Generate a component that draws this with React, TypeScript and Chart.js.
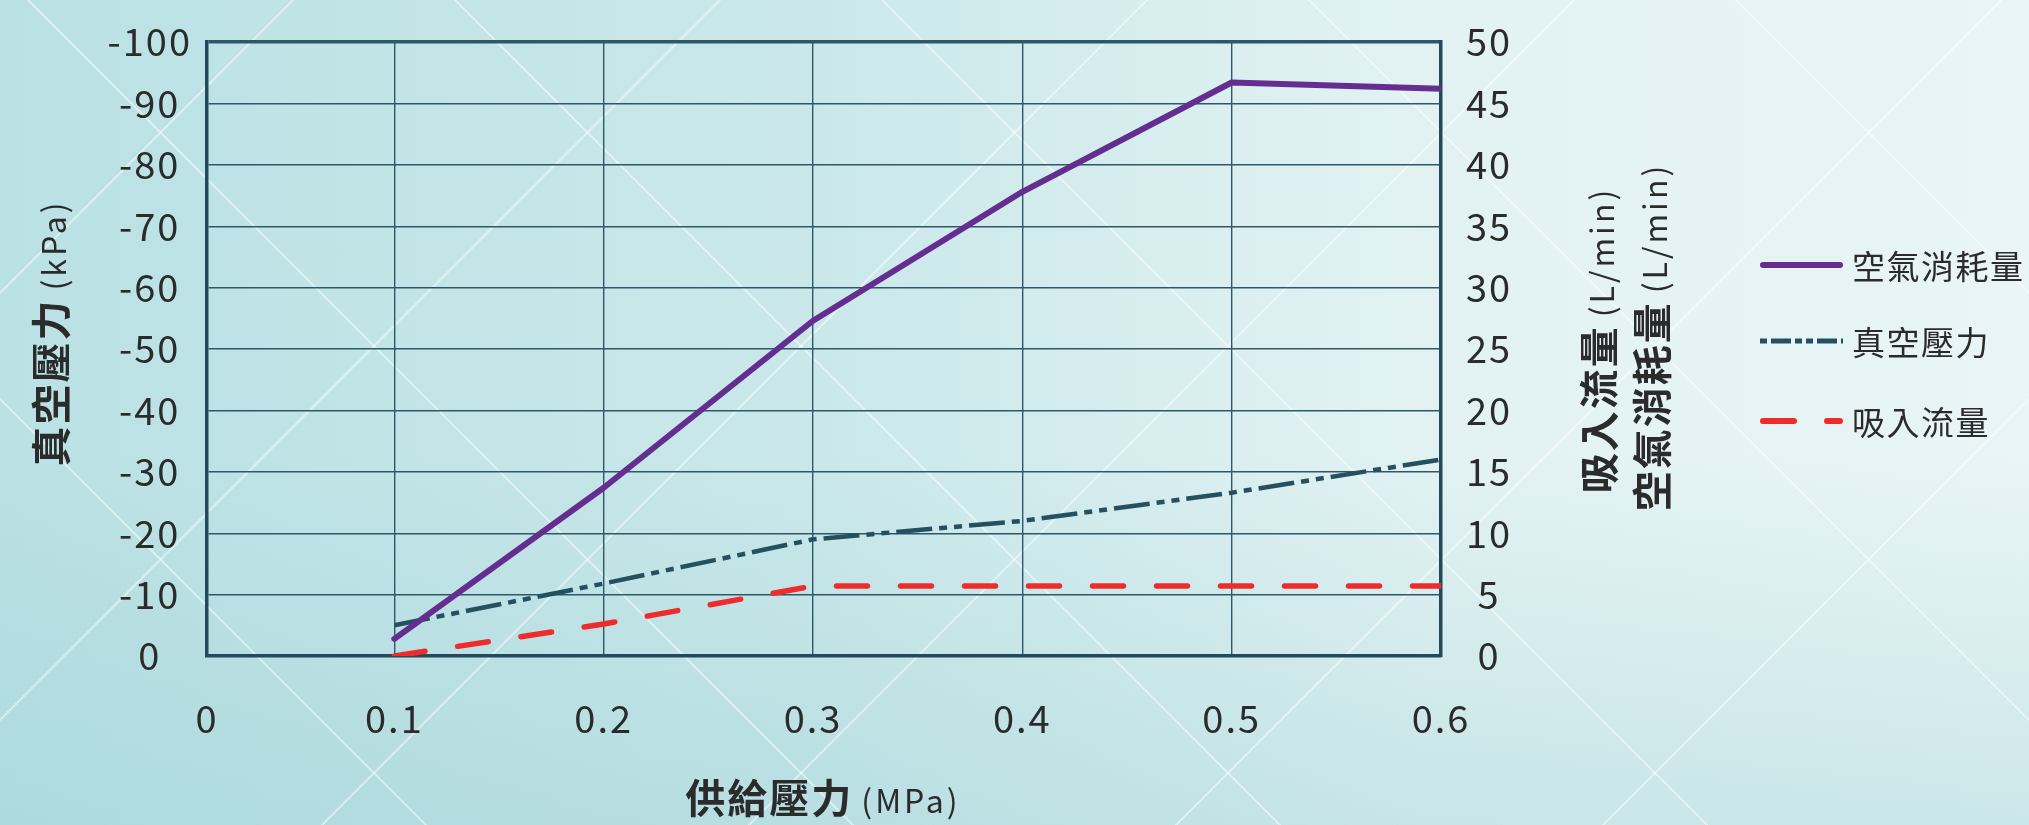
import React, { useEffect, useRef } from 'react';
import { Chart, registerables } from 'chart.js';

Chart.register(...registerables);

// ---- data ----
const xValues = [0.1, 0.2, 0.3, 0.4, 0.5, 0.6];
const airConsumption = [1.4, 13.7, 27.3, 37.8, 46.7, 46.2]; // L/min (right axis)
const vacuumPressure = [-5, -11.8, -19, -22, -26.6, -32]; // kPa (left axis)
const suctionFlow = [0, 2.6, 5.7, 5.7, 5.7, 5.7]; // L/min (right axis)

const xTickValues = [0, 0.1, 0.2, 0.3, 0.4, 0.5, 0.6];
const xTickLabels = ['0', '0.1', '0.2', '0.3', '0.4', '0.5', '0.6'];
const seriesNames = ['空氣消耗量', '真空壓力', '吸入流量'];
const leftTitle = ['真空壓力', '(kPa)'];
const rightTitleLines = [
  ['吸入流量', '(L/min)'],
  ['空氣消耗量', '(L/min)'],
];
const xTitle = ['供給壓力', '(MPa)'];

// ---- styles ----
const FF = "'Noto Sans CJK TC', 'Noto Sans', sans-serif";
const TEXT = '#2b2b2b';
const PURPLE = '#662d91';
const DARK = '#24505f';
const RED = '#ee2c2c';
const GRID = '#2e5868';
const BORDER = '#244a59';
const X_START = 0.0105; // where the "0" tick sits on the drawn axis
const DASHDOT = [36, 7, 8, 7, 8, 7];
const REDDASH = [31, 33];

function drawMixed(
  ctx: CanvasRenderingContext2D,
  parts: string[],
  x: number,
  y: number,
  rotate: boolean
) {
  ctx.save();
  ctx.translate(x, y);
  if (rotate) ctx.rotate(-Math.PI / 2);
  ctx.textBaseline = 'alphabetic';
  ctx.textAlign = 'left';
  ctx.fillStyle = TEXT;
  const boldFont = `bold 40px ${FF}`;
  const regFont = `32px ${FF}`;
  const c: any = ctx;
  ctx.font = boldFont;
  c.letterSpacing = '2px';
  const w1 = ctx.measureText(parts[0]).width;
  ctx.font = regFont;
  c.letterSpacing = '3px';
  const w2 = ctx.measureText(parts[1]).width;
  const gap = 8;
  const total = w1 + gap + w2;
  const sx = -total / 2;
  ctx.font = boldFont;
  c.letterSpacing = '2px';
  ctx.fillText(parts[0], sx, 0);
  ctx.font = regFont;
  c.letterSpacing = '3px';
  ctx.fillText(parts[1], sx + w1 + gap, 0);
  ctx.restore();
}

const decorPlugin = {
  id: 'decor',
  beforeUpdate(chart: any) {
    (chart.ctx as any).letterSpacing = '2px';
  },
  afterDraw(chart: any) {
    const ctx: CanvasRenderingContext2D = chart.ctx;
    // axis titles
    drawMixed(ctx, leftTitle, 66, 333, true);
    drawMixed(ctx, rightTitleLines[0], 1614, 340, true);
    drawMixed(ctx, rightTitleLines[1], 1667, 337, true);
    drawMixed(ctx, xTitle, 823, 813, false);

    // legend
    const rows = [
      { name: seriesNames[0], color: PURPLE, width: 6, dash: [] as number[], cap: 'round', y: 265 },
      { name: seriesNames[1], color: DARK, width: 5, dash: [7, 4, 20, 4, 7, 4, 7, 4, 20, 4], cap: 'butt', y: 341 },
      { name: seriesNames[2], color: RED, width: 6, dash: [31, 33], cap: 'round', y: 421 },
    ];
    rows.forEach((r) => {
      ctx.save();
      ctx.strokeStyle = r.color;
      ctx.lineWidth = r.width;
      ctx.lineCap = r.cap as CanvasLineCap;
      ctx.setLineDash(r.dash);
      ctx.beginPath();
      const x0 = r.cap === 'round' ? 1763 : 1760;
      const x1 = r.cap === 'round' ? 1840 : 1843;
      ctx.moveTo(x0, r.y);
      ctx.lineTo(x1, r.y);
      ctx.stroke();
      ctx.setLineDash([]);
      ctx.fillStyle = TEXT;
      ctx.font = `33px ${FF}`;
      (ctx as any).letterSpacing = '1.5px';
      ctx.textAlign = 'left';
      ctx.textBaseline = 'middle';
      ctx.fillText(r.name, 1852, r.y + 1);
      ctx.restore();
    });
  },
};

const zeroPad = (scale: any) => {
  scale.paddingTop = 0;
  scale.paddingBottom = 0;
  scale.paddingLeft = 0;
  scale.paddingRight = 0;
};

export default function App() {
  const ref = useRef<HTMLCanvasElement | null>(null);

  useEffect(() => {
    if (!ref.current) return;
    Chart.defaults.font.family = FF;
    const toPts = (arr: number[]) => xValues.map((x, i) => ({ x, y: arr[i] }));
    const chart = new Chart(ref.current, {
      type: 'line',
      data: {
        datasets: [
          {
            label: seriesNames[0],
            data: toPts(airConsumption),
            yAxisID: 'y1',
            borderColor: PURPLE,
            backgroundColor: PURPLE,
            borderWidth: 6,
            borderJoinStyle: 'round',
            borderCapStyle: 'round',
            pointRadius: 0,
            tension: 0,
          },
          {
            label: seriesNames[1],
            data: toPts(vacuumPressure),
            yAxisID: 'y',
            borderColor: DARK,
            backgroundColor: DARK,
            borderWidth: 4.5,
            borderDash: DASHDOT,
            pointRadius: 0,
            tension: 0,
          },
          {
            label: seriesNames[2],
            data: toPts(suctionFlow),
            yAxisID: 'y1',
            borderColor: RED,
            backgroundColor: RED,
            borderWidth: 5.5,
            borderDash: REDDASH,
            borderCapStyle: 'round',
            pointRadius: 0,
            tension: 0,
          },
        ],
      },
      options: {
        animation: false,
        responsive: false,
        devicePixelRatio: 1,
        layout: { padding: { left: 0, right: 488, top: 42, bottom: 69 } },
        plugins: {
          legend: { display: false },
          tooltip: { enabled: false },
        },
        scales: {
          x: {
            type: 'linear',
            min: X_START,
            max: 0.6,
            afterBuildTicks: (scale: any) => {
              scale.ticks = xTickValues.map((v) => ({ value: v === 0 ? X_START : v }));
            },
            afterFit: (scale: any) => {
              scale.height = 100;
              zeroPad(scale);
            },
            ticks: {
              callback: (_v: any, i: number) => xTickLabels[i],
              font: { size: 38 },
              color: TEXT,
              padding: 40,
              maxRotation: 0,
              autoSkip: false,
            },
            grid: { color: GRID, lineWidth: 1.4, drawTicks: false },
            border: { display: true, color: BORDER, width: 3.5 },
          },
          y: {
            type: 'linear',
            position: 'left',
            min: -100,
            max: 0,
            reverse: true,
            afterFit: (scale: any) => {
              scale.width = 207;
              zeroPad(scale);
            },
            ticks: {
              stepSize: 10,
              font: { size: 38 },
              color: TEXT,
              crossAlign: 'center',
              padding: 15,
            },
            grid: {
              color: GRID,
              lineWidth: (c: any) => (c.tick && c.tick.value === -100 ? 3.5 : 1.4),
              drawTicks: false,
            },
            border: { display: true, color: BORDER, width: 3.5 },
          },
          y1: {
            type: 'linear',
            position: 'right',
            min: 0,
            max: 50,
            afterFit: (scale: any) => {
              scale.width = 100;
              zeroPad(scale);
            },
            ticks: {
              stepSize: 5,
              font: { size: 38 },
              color: TEXT,
              crossAlign: 'center',
              padding: 25,
            },
            grid: { display: false, drawTicks: false },
            border: { display: true, color: BORDER, width: 3.5 },
          },
        },
      },
      plugins: [decorPlugin],
    } as any);
    return () => chart.destroy();
  }, []);

  const bg = [
    'repeating-linear-gradient(45deg, rgba(255,255,255,0) 0px, rgba(255,255,255,0) 300px, rgba(255,255,255,0.45) 300px, rgba(255,255,255,0.45) 302px)',
    'repeating-linear-gradient(-45deg, rgba(255,255,255,0) 0px, rgba(255,255,255,0) 300px, rgba(255,255,255,0.45) 300px, rgba(255,255,255,0.45) 302px)',
    'linear-gradient(to top, rgba(150,205,210,0.35) 0%, rgba(150,205,210,0) 45%)',
    'linear-gradient(to right, #bae1e4 0%, #cae8ea 40%, #e2f2f3 70%, #e9f5f6 100%)',
  ].join(', ');

  return (
    <div
      style={{
        position: 'fixed',
        left: 0,
        top: 0,
        width: 2029,
        height: 825,
        background: bg,
        overflow: 'hidden',
      }}
    >
      <canvas ref={ref} width={2029} height={825} style={{ width: 2029, height: 825, display: 'block' }} />
    </div>
  );
}
